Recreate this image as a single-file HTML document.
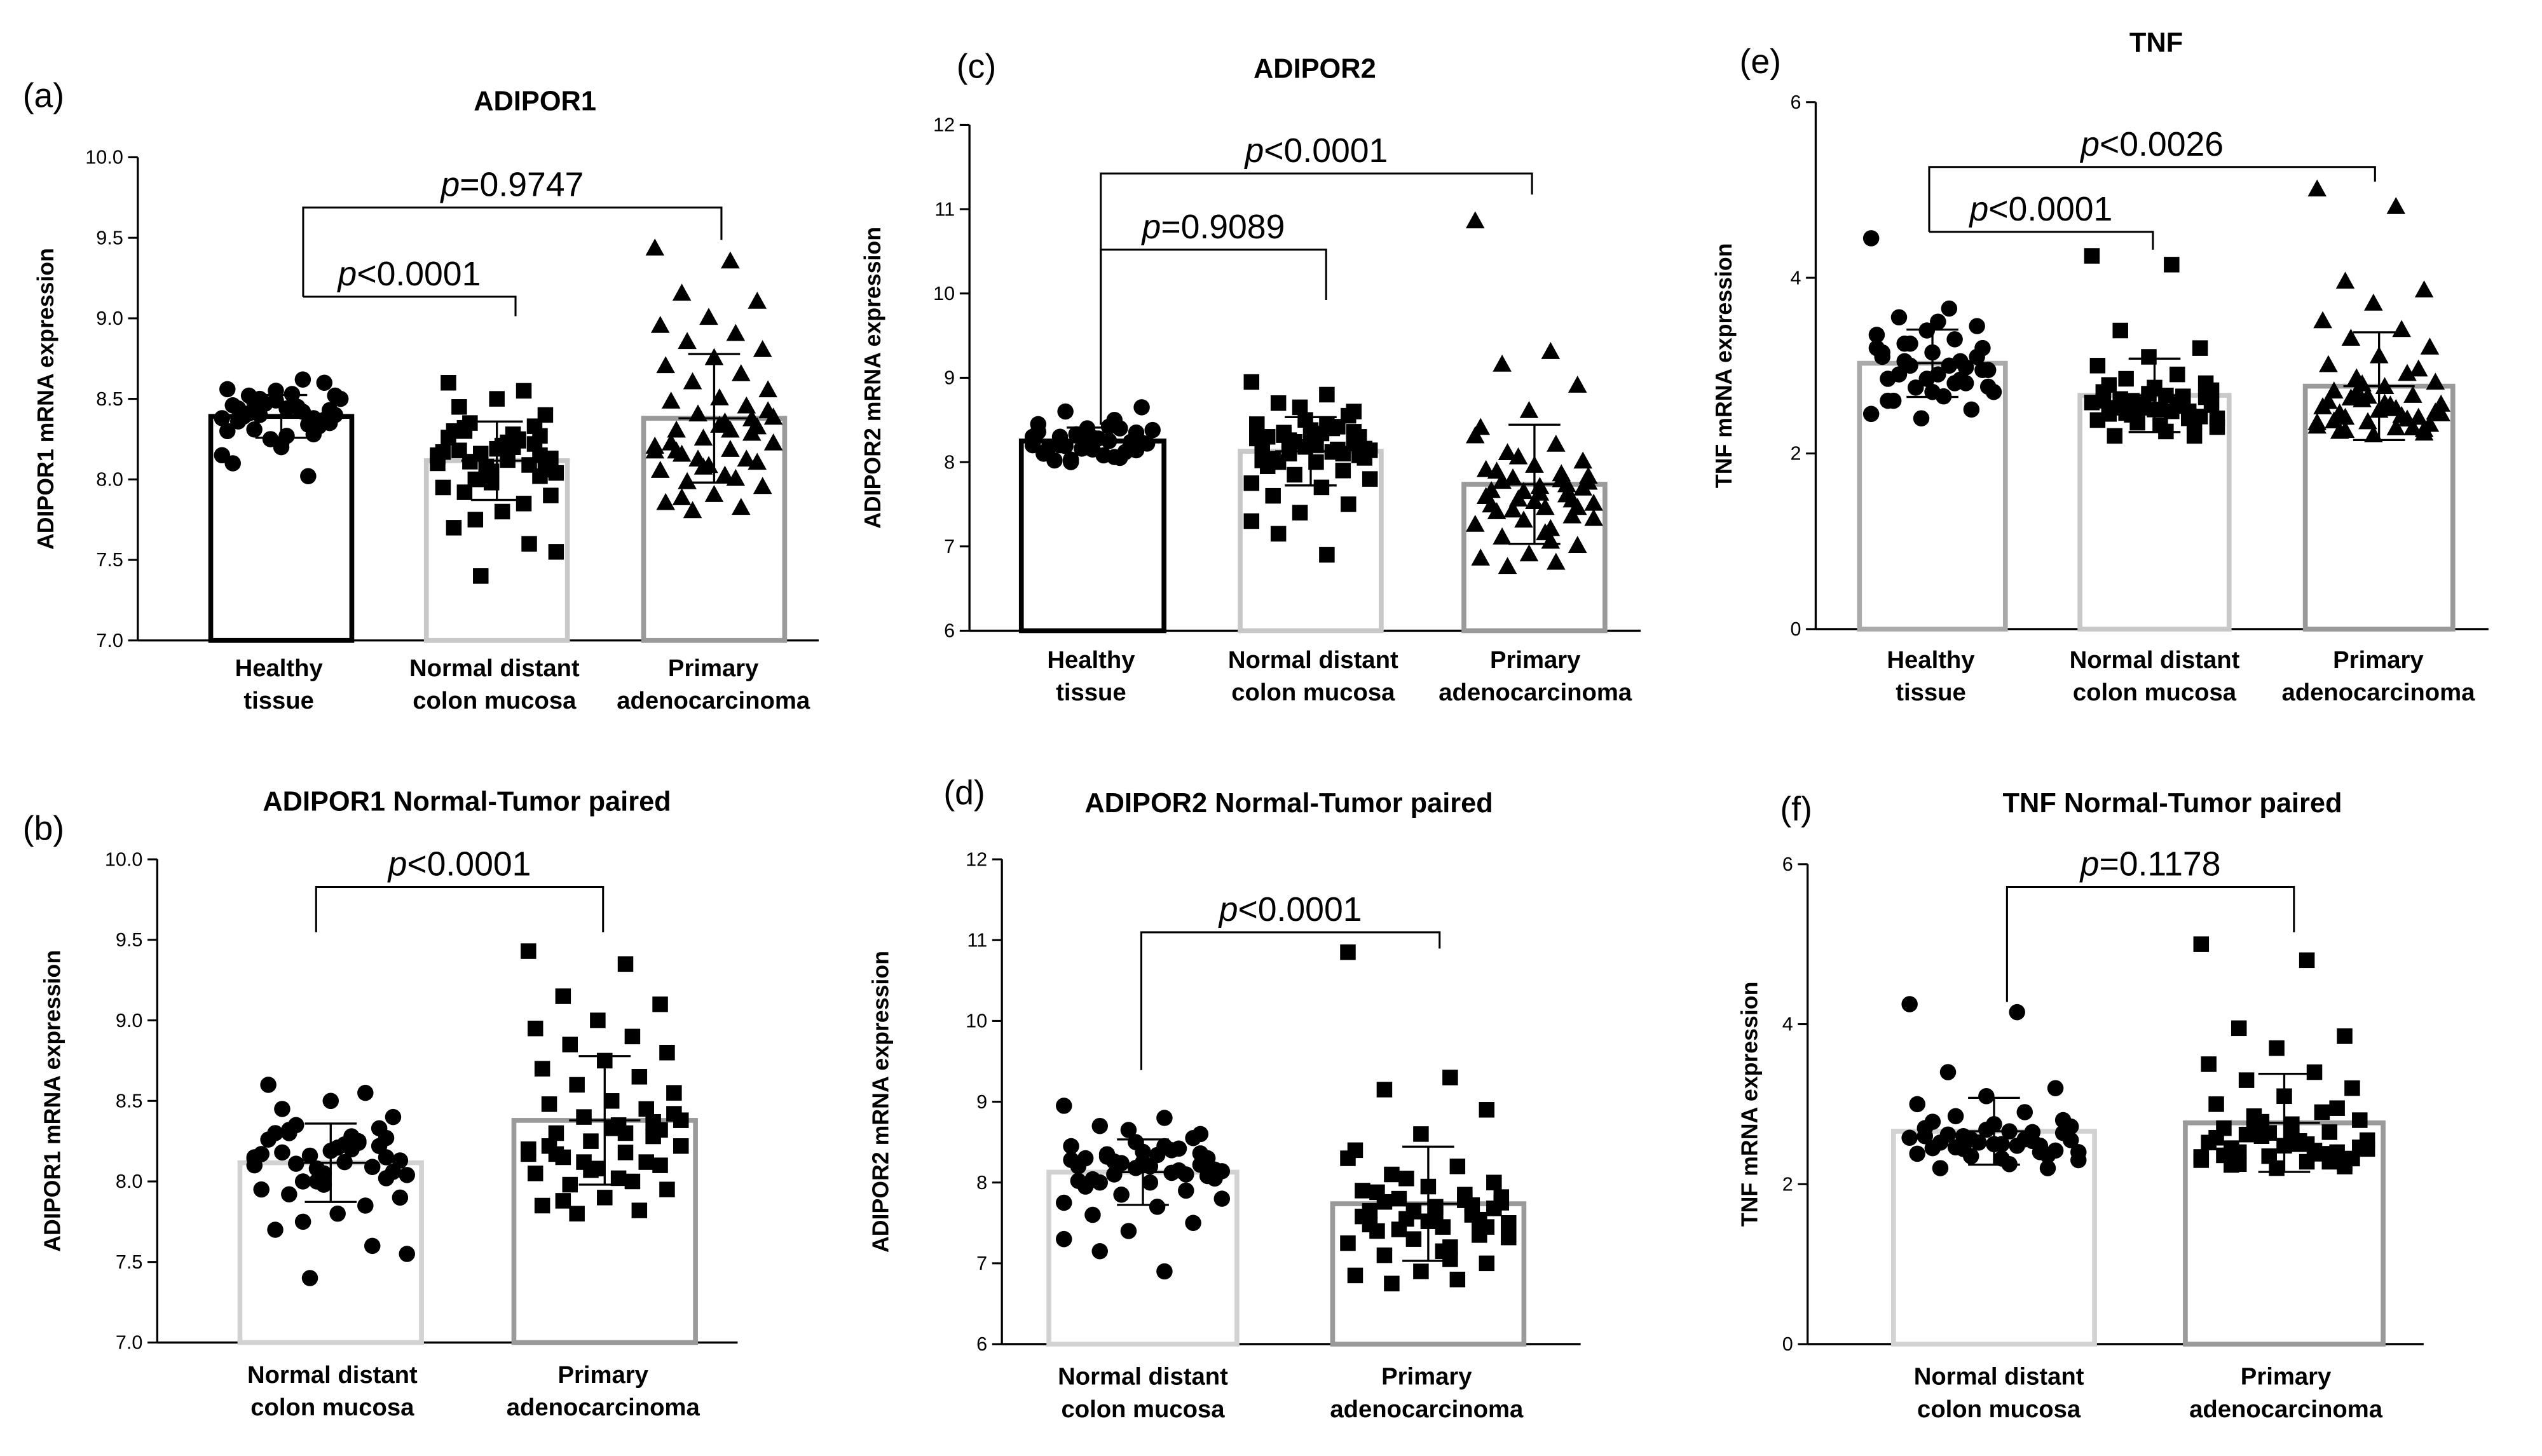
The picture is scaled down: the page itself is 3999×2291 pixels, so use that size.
<!DOCTYPE html>
<html><head><meta charset="utf-8"><style>
html,body{margin:0;padding:0;background:#fff;}
svg{display:block;font-family:"Liberation Sans",sans-serif;}
</style></head><body>
<svg id="fig" width="3999" height="2291" viewBox="0 0 1568 898" preserveAspectRatio="none" xmlns="http://www.w3.org/2000/svg"></svg>
<script>
const adipor1Healthy=[8.38,8.45,8.52,8.6,8.55,8.3,8.42,8.48,8.35,8.2,8.1,8.02,8.5,8.4,8.44,8.36,8.28,8.47,8.5,8.53,8.39,8.33,8.25,8.15,8.45,8.41,8.37,8.49,8.56,8.62,8.31,8.43,8.22,8.46,8.34,8.4,8.52,8.27,8.44,8.38];
const adipor1Normal=[8.1,8.2,8.3,8.15,8.05,7.95,8.25,8.35,8.4,8.5,8.6,8.55,8.0,7.9,7.8,7.7,7.6,7.4,7.55,8.12,8.18,8.22,8.08,8.14,8.28,8.32,8.02,7.98,8.17,8.24,8.11,8.06,8.19,8.26,7.85,7.75,8.13,8.21,8.3,8.09,8.16,8.04,8.23,8.45,8.33,8.0,8.15,8.2,7.92,8.27];
const adipor1Primary=[9.43,9.35,9.15,9.1,9.0,8.95,8.9,8.85,8.8,8.75,8.7,8.65,8.6,8.55,8.5,8.48,8.45,8.4,8.38,8.35,8.3,8.28,8.25,8.2,8.18,8.15,8.1,8.08,8.05,8.0,7.98,7.95,7.9,7.85,7.82,7.8,8.42,8.33,8.22,8.12,8.12,8.22,8.02,8.17,8.37,8.07,8.17,8.3,7.88,8.32];
const adipor2Healthy=[8.2,8.25,8.3,8.35,8.4,8.45,8.5,8.6,8.65,8.15,8.1,8.05,8.0,8.22,8.28,8.18,8.12,8.33,8.38,8.08,8.02,8.24,8.16,8.3,8.42,8.2,8.14,8.26,8.36,8.06,8.19,8.23,8.29,8.11,8.4,8.03];
const adipor2Normal=[8.95,8.8,8.7,8.6,8.5,8.45,8.4,8.35,8.3,8.25,8.2,8.15,8.1,8.05,8.0,7.95,7.9,7.85,7.8,7.7,7.6,7.5,7.4,7.3,6.9,7.15,8.22,8.18,8.28,8.12,8.32,8.08,8.38,8.02,8.42,8.26,8.16,8.2,8.3,8.1,8.24,8.14,8.34,8.04,8.55,8.65,7.75,8.45,8.0,8.36];
const adipor2Primary=[10.85,9.3,9.15,8.9,8.6,8.4,8.2,8.1,8.0,7.95,7.9,7.85,7.8,7.75,7.7,7.65,7.6,7.55,7.5,7.45,7.4,7.35,7.3,7.25,7.2,7.1,7.0,6.9,6.85,6.8,6.75,7.68,7.52,7.58,7.78,7.42,7.82,7.62,7.48,7.72,8.05,7.32,7.15,7.88,7.54,7.64,8.3,7.05,7.76,7.45];
const tnfHealthy=[4.45,3.65,3.55,3.45,3.4,3.35,3.3,3.25,3.2,3.15,3.1,3.05,3.0,2.95,2.9,2.85,2.8,2.75,2.7,2.65,2.6,2.5,2.4,2.45,3.0,2.9,3.1,2.85,3.2,2.8,3.05,2.95,2.7,3.15,2.84,3.25,2.76,3.5,2.6,2.98];
const tnfNormal=[4.25,4.15,3.4,3.2,3.1,3.0,2.9,2.85,2.8,2.75,2.7,2.65,2.6,2.55,2.5,2.45,2.4,2.35,2.3,2.25,2.2,2.2,2.52,2.58,2.48,2.62,2.42,2.68,2.38,2.56,2.46,2.64,2.5,2.6,2.54,2.44,2.72,2.32,2.78,2.48,2.56,2.4,2.66,2.52,2.36];
const tnfPrimary=[5.0,4.8,3.95,3.85,3.7,3.5,3.4,3.3,3.2,3.1,3.0,2.9,2.85,2.8,2.75,2.7,2.65,2.6,2.55,2.5,2.45,2.4,2.35,2.3,2.28,2.25,2.22,2.2,2.52,2.42,2.62,2.32,2.48,2.58,2.38,2.68,2.46,2.56,2.36,2.28,2.78,2.44,2.54,2.24,2.95,2.64,2.34,2.5,2.4,2.26];
const ticksA=[7.0,7.5,8.0,8.5,9.0,9.5,10.0];
const ticksB=[6,7,8,9,10,11,12];
const ticksT=[0,2,4,6];
const catsThree=[["Healthy","tissue"],["Normal distant","colon mucosa"],["Primary","adenocarcinoma"]];
const catsTwo=[["Normal distant","colon mucosa"],["Primary","adenocarcinoma"]];

const NS="http://www.w3.org/2000/svg";
const svg=document.getElementById('fig');
function el(tag,attrs,parent){const e=document.createElementNS(NS,tag);for(const k in attrs)e.setAttribute(k,attrs[k]);(parent||svg).appendChild(e);return e;}
function txt(s,attrs,parent){const t=el('text',attrs,parent);t.textContent=s;return t;}
function stats(a){const m=a.reduce((p,c)=>p+c,0)/a.length;const sd=Math.sqrt(a.reduce((p,c)=>p+(c-m)*(c-m),0)/(a.length-1));return [m,sd];}

function panel(c){
  const g=el('g',{});
  
  
  const y0=c.ticks[0],y1=c.ticks[c.ticks.length-1];
  const Y=v=>c.yb-(v-y0)/(y1-y0)*(c.yb-c.yt);
  const ya=el('line',{x1:c.ax,y1:c.yt,x2:c.ax,y2:c.yb,stroke:'#000','stroke-width':1.3},g);
  
  const xa=el('line',{x1:c.ax,y1:c.yb,x2:c.xe,y2:c.yb,stroke:'#000','stroke-width':1.3},g);
  
  c.ticks.forEach(t=>{
    el('line',{x1:c.ax-6,y1:Y(t),x2:c.ax,y2:Y(t),stroke:'#000','stroke-width':1.2},g);
    const tl=txt(c.fmt(t),{x:c.ax-9,y:Y(t)+4,'font-size':12,'text-anchor':'end',fill:'#000'},g);
    
  });
  const yt=txt(c.ytitle,{x:0,y:0,'font-size':14,'font-weight':'bold','text-anchor':'middle',transform:`translate(${c.ytx},${(c.yt+c.yb)/2}) rotate(-90)`},g);
  
  const ti=txt(c.title,{x:c.tx,y:c.ty,'font-size':17,'font-weight':'bold','text-anchor':'middle'},g);
  
  const pl=txt(c.label,{x:c.lx,y:c.ly,'font-size':21},g);
  
  c.groups.forEach((d,gi)=>{
    const [x0,x1]=c.bars[gi];const cx=(x0+x1)/2;const [m,sd]=stats(d);
    const b=el('rect',{x:x0,y:Y(m),width:x1-x0,height:c.yb-Y(m),fill:'#fff',stroke:c.colors[gi],'stroke-width':3},g);
    
    const hw=(x1-x0)*0.42;
    d.forEach((v,i)=>{
      const off=(((i*37)%23)-11)/11*hw;const px=cx+off,py=Y(v);let mk;
      const s=c.markers[gi];
      if(s==='c')mk=el('circle',{cx:px,cy:py,r:5,fill:'#000'},g);
      else if(s==='s')mk=el('rect',{x:px-4.8,y:py-4.8,width:9.6,height:9.6,fill:'#000'},g);
      else mk=el('polygon',{points:`${px},${py-6.5} ${px-5.8},${py+4} ${px+5.8},${py+4}`,fill:'#000'},g);
      
      
    });
    const eb=el('path',{d:`M${cx-16},${Y(m+sd)}H${cx+16}M${cx},${Y(m+sd)}V${Y(m-sd)}M${cx-16},${Y(m-sd)}H${cx+16}M${cx-22},${Y(m)}H${cx+22}`,stroke:'#000','stroke-width':1.3,fill:'none'},g);
    
    c.cats[gi].forEach((line,li)=>{
      const cl=txt(line,{x:c.catx[gi],y:c.yb+c.catdy+li*20,'font-size':15,'font-weight':'bold','text-anchor':'middle'},g);
      
    });
  });
  c.brackets.forEach(br=>{
    const p=el('path',{d:`M${br.x1},${br.l}V${br.y}H${br.x2}V${br.r}`,stroke:'#000','stroke-width':1.2,fill:'none'},g);
    
    const t=el('text',{x:(br.x1+br.x2)/2,y:br.y-7,'font-size':21,'text-anchor':'middle'},g);
    
    const it=el('tspan',{'font-style':'italic'},t);it.textContent='p';
    const rest=el('tspan',{},t);rest.textContent=br.t;
  });
}
const f1=v=>v.toFixed(1), f0=v=>String(v);
const C3=['#000','#c8c8c8','#9a9a9a'], C2=['#d2d2d2','#9a9a9a'];
panel({name:'panel-a',label:'(a)',lx:14,ly:66,title:'ADIPOR1',tx:330,ty:68,ytitle:'ADIPOR1 mRNA expression',ytx:33,ax:85,xe:505,yt:97,yb:395,ticks:ticksA,fmt:f1,
 groups:[adipor1Healthy,adipor1Normal,adipor1Primary],bars:[[130,217],[263,350],[397,484]],colors:C3,markers:['c','s','t'],cats:catsThree,catx:[172,305,440],catdy:22,
 brackets:[{x1:187,x2:445,y:128,l:183,r:148,t:'=0.9747'},{x1:187,x2:318,y:183,l:183,r:195,t:'<0.0001'}]});
panel({name:'panel-c',label:'(c)',lx:590,ly:48,title:'ADIPOR2',tx:811,ty:48,ytitle:'ADIPOR2 mRNA expression',ytx:543,ax:598,xe:1012,yt:77,yb:389,ticks:ticksB,fmt:f0,
 groups:[adipor2Healthy,adipor2Normal,adipor2Primary],bars:[[630,718],[765,852],[903,990]],colors:C3,markers:['c','s','t'],cats:catsThree,catx:[673,810,947],catdy:23,
 brackets:[{x1:679,x2:945,y:107,l:262,r:120,t:'<0.0001'},{x1:679,x2:818,y:154,l:262,r:185,t:'=0.9089'}]});
panel({name:'panel-e',label:'(e)',lx:1073,ly:45,title:'TNF',tx:1330,ty:32,ytitle:'TNF mRNA expression',ytx:1068,ax:1120,xe:1535,yt:63,yb:388,ticks:ticksT,fmt:f0,
 groups:[tnfHealthy,tnfNormal,tnfPrimary],bars:[[1147,1237],[1283,1375],[1422,1513]],colors:['#aaaaaa','#c8c8c8','#9a9a9a'],markers:['c','s','t'],cats:catsThree,catx:[1191,1329,1467],catdy:24,
 brackets:[{x1:1190,x2:1465,y:103,l:143,r:112,t:'<0.0026'},{x1:1190,x2:1328,y:143,l:143,r:154,t:'<0.0001'}]});
panel({name:'panel-b',label:'(b)',lx:14,ly:518,title:'ADIPOR1 Normal-Tumor paired',tx:288,ty:500,ytitle:'ADIPOR1 mRNA expression',ytx:37,ax:97,xe:455,yt:530,yb:828,ticks:ticksA,fmt:f1,
 groups:[adipor1Normal,adipor1Primary],bars:[[148,260],[317,429]],colors:C2,markers:['c','s'],cats:catsTwo,catx:[205,372],catdy:25,
 brackets:[{x1:195,x2:372,y:547,l:575,r:575,t:'<0.0001'}]});
panel({name:'panel-d',label:'(d)',lx:582,ly:496,title:'ADIPOR2 Normal-Tumor paired',tx:795,ty:501,ytitle:'ADIPOR2 mRNA expression',ytx:548,ax:618,xe:975,yt:530,yb:829,ticks:ticksB,fmt:f0,
 groups:[adipor2Normal,adipor2Primary],bars:[[647,763],[822,940]],colors:C2,markers:['c','s'],cats:catsTwo,catx:[705,880],catdy:25,
 brackets:[{x1:704,x2:888,y:575,l:660,r:585,t:'<0.0001'}]});
panel({name:'panel-f',label:'(f)',lx:1098,ly:506,title:'TNF Normal-Tumor paired',tx:1340,ty:501,ytitle:'TNF mRNA expression',ytx:1084,ax:1115,xe:1495,yt:533,yb:829,ticks:ticksT,fmt:f0,
 groups:[tnfNormal,tnfPrimary],bars:[[1168,1292],[1348,1470]],colors:C2,markers:['c','s'],cats:catsTwo,catx:[1233,1410],catdy:25,
 brackets:[{x1:1238,x2:1415,y:547,l:618,r:575,t:'=0.1178'}]});
</script>
</body></html>
